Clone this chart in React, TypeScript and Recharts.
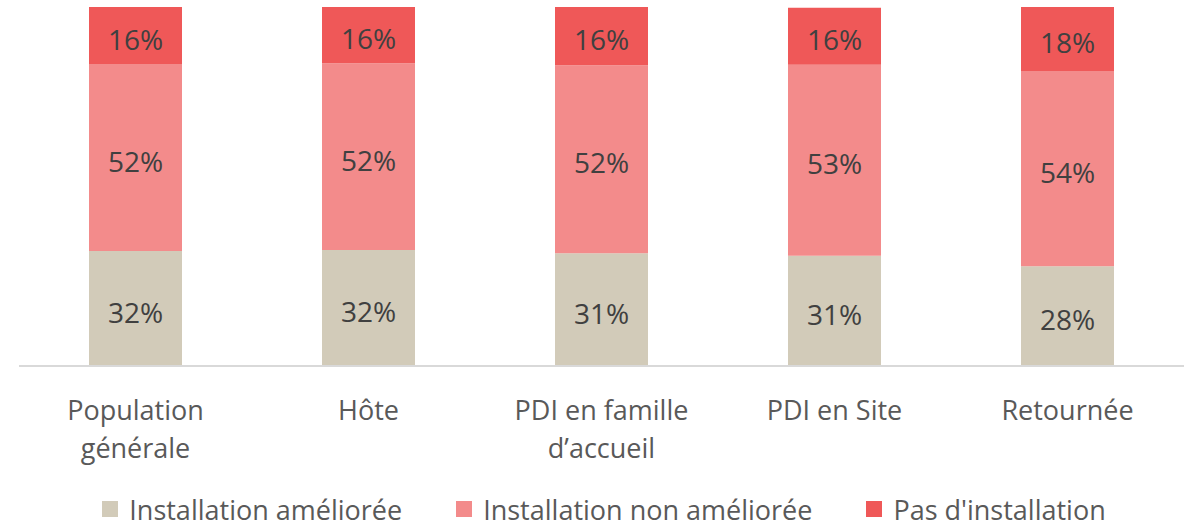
import React from 'react';
import { BarChart, Bar, XAxis, YAxis, LabelList, Legend } from 'recharts';

const categories = ['Population\ngénérale', 'Hôte', 'PDI en famille\nd’accueil', 'PDI en Site', 'Retournée'];
const ameliore = [32.0, 32.3, 31.4, 30.7, 27.8];
const nonAmeliore = [52.1, 52.0, 52.4, 53.2, 54.4];
const pasInstallation = [15.9, 15.7, 16.2, 15.9, 17.8];
const seriesNames = ['Installation améliorée', 'Installation non améliorée', "Pas d'installation"];
const seriesColors = ['#D2CBB9', '#F38B8B', '#EF5858'];

const data = categories.map((c, i) => ({
  name: c,
  a: ameliore[i],
  b: nonAmeliore[i],
  c: pasInstallation[i],
}));

const FONT = '"Open Sans", "Noto Sans", sans-serif';

const Tick = (props: any) => {
  const { x, y, payload } = props;
  const lines = String(payload.value).split('\n');
  return (
    <g transform={`translate(${x},${y})`}>
      <text textAnchor="middle" fill="#595959" fontSize={27} fontFamily={FONT}>
        {lines.map((l, i) => (
          <tspan key={i} x={0} y={0} dy={46 + i * 38}>
            {l}
          </tspan>
        ))}
      </text>
    </g>
  );
};

const LegendContent = () => (
  <div
    style={{
      display: 'flex',
      justifyContent: 'center',
      alignItems: 'center',
      gap: 54,
      fontFamily: FONT,
      fontSize: 27,
      color: '#595959',
      height: 34,
      paddingLeft: 5,
      whiteSpace: 'nowrap',
    }}
  >
    {seriesNames.map((n, i) => (
      <div key={n} style={{ display: 'flex', alignItems: 'center' }}>
        <span style={{ width: 16, height: 16, background: seriesColors[i], display: 'inline-block', marginRight: 11 }} />
        <span>{n}</span>
      </div>
    ))}
  </div>
);

const BarLabel = (props: any) => {
  const { viewBox, value } = props;
  if (!viewBox) return null;
  const { x, y, width, height } = viewBox;
  return (
    <text
      x={x + width / 2}
      y={y + height / 2 + 3}
      textAnchor="middle"
      dominantBaseline="central"
      fill="#404040"
      fontSize={28}
      fontFamily={FONT}
    >
      {`${Math.round(Number(value))}%`}
    </text>
  );
};

export default function App() {
  return (
    <div style={{ position: 'absolute', left: 0, top: 0, background: '#fff' }}>
      <BarChart
        width={1193}
        height={526}
        data={data}
        margin={{ top: 7, right: 9, left: 19, bottom: 0 }}
        barSize={93}
      >
        <XAxis
          dataKey="name"
          tick={<Tick />}
          tickLine={false}
          axisLine={{ stroke: '#D9D9D9', strokeWidth: 2 }}
          height={126}
          interval={0}
        />
        <YAxis hide domain={[0, 100]} />
        <Legend verticalAlign="bottom" content={<LegendContent />} />
        <Bar dataKey="a" stackId="s" fill={seriesColors[0]} isAnimationActive={false} name={seriesNames[0]}>
          <LabelList dataKey="a" content={<BarLabel />} />
        </Bar>
        <Bar dataKey="b" stackId="s" fill={seriesColors[1]} isAnimationActive={false} name={seriesNames[1]}>
          <LabelList dataKey="b" content={<BarLabel />} />
        </Bar>
        <Bar dataKey="c" stackId="s" fill={seriesColors[2]} isAnimationActive={false} name={seriesNames[2]}>
          <LabelList dataKey="c" content={<BarLabel />} />
        </Bar>
      </BarChart>
    </div>
  );
}
